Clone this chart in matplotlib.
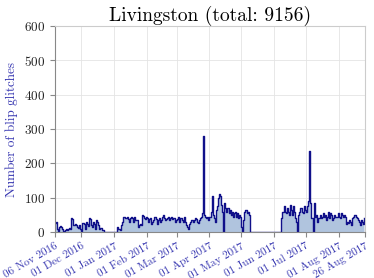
import numpy as np
import pandas as pd
import matplotlib
matplotlib.use('Agg')
import matplotlib.pyplot as plt
import matplotlib.dates as mdates

plt.rcParams['font.family'] = 'serif'
plt.rcParams['font.serif'] = ['cmr10', 'DejaVu Serif']
plt.rcParams['mathtext.fontset'] = 'cm'
plt.rcParams['axes.unicode_minus'] = False
plt.rcParams['axes.formatter.use_mathtext'] = True

title = 'Livingston (total: 9156)'
ylabel = 'Number of blip glitches'
start_date = '2016-11-06'

# daily counts
nov_dec = [28, 30, 8, 3, 15, 18, 15, 8, 4, 6,
           8, 5, 10, 12, 10, 40, 38, 20, 22, 24,
           20, 15, 12, 20, 8, 4, 28, 25, 10, 30,
           25, 18, 40, 38, 20, 15, 30, 25, 8, 35,
           30, 20, 10, 12, 6, 5, 0]
gap_1 = [0] * 12
jan_may = [15, 10, 5, 20, 30, 45, 44, 40, 42, 45,
           38, 30, 40, 45, 42, 30, 45, 35, 35, 15,
           20, 25, 20, 50, 48, 40, 38, 45, 40, 30,
           38, 40, 25, 30, 35, 45, 38, 25, 35, 40,
           30, 35, 45, 50, 40, 35, 38, 42, 45, 35,
           40, 45, 38, 40, 30, 35, 38, 45, 30, 40,
           42, 35, 30, 45,
           30, 20, 15, 8, 25, 30, 35, 30, 35, 40,
           38, 30, 28, 35, 40, 45, 55, 280, 50, 45,
           40, 45, 35, 45, 60, 105, 50, 40, 30, 65,
           75, 100, 110, 105, 80, 60, 0, 85, 70, 60,
           70, 55, 65, 50, 60, 45, 55, 60, 45, 55,
           40, 50, 45, 15, 0, 35, 60, 65, 55, 60,
           50, 0]
gap_2 = [0] * 29
jun_aug = [40, 60, 75, 60, 55, 70, 60, 50, 80, 65,
           50, 75, 60, 40, 30, 0, 50, 60, 70, 60,
           55, 75, 65, 60, 75, 90, 236, 85, 40, 40,
           0, 85, 45, 50, 30, 40, 50, 40, 45, 55,
           45, 50, 35, 45, 60, 40, 55, 50, 35, 40,
           50, 45, 45, 55, 45, 40, 55, 50, 45, 50,
           45, 25, 30, 28, 35, 30, 20, 40, 45, 50,
           45, 40, 35, 30, 20, 35, 30, 25, 40]

tick_dates = ['2016-11-06', '2016-12-01', '2017-01-01', '2017-02-01',
              '2017-03-01', '2017-04-01', '2017-05-01', '2017-06-01',
              '2017-07-01', '2017-08-01', '2017-08-26']

counts = np.array(nov_dec + gap_1 + jan_may + gap_2 + jun_aug)
days = pd.date_range(start_date, periods=len(counts), freq='D')

fig = plt.figure(figsize=(3.74, 2.78), dpi=100)
ax = fig.add_axes([0.147, 0.165, 0.829, 0.741])

line_col = '#10108a'
label_col = '#3535b0'
ax.fill_between(days, counts, step='post', color='#b0c4de', lw=0)
ax.step(days, counts, where='post', color=line_col, lw=1.0)

ax.set_xlim(pd.Timestamp(tick_dates[0]), pd.Timestamp(tick_dates[-1]))
ax.set_ylim(0, 600)
ax.set_yticks(np.arange(0, 601, 100))
ax.set_xticks(pd.to_datetime(tick_dates))
ax.xaxis.set_major_formatter(mdates.DateFormatter('%d %b %Y'))
for lab in ax.get_xticklabels():
    lab.set_rotation(30)
    lab.set_ha('right')
    lab.set_rotation_mode('anchor')
    lab.set_color(label_col)
    lab.set_fontsize(8)
ax.tick_params(axis='y', labelsize=9.5, colors='#222222', color='#888888')
ax.tick_params(axis='x', color='#888888', labelcolor=label_col, pad=3)

ax.grid(True, color='#e4e4e4', lw=0.6)
ax.set_axisbelow(True)
for side in ['top', 'right']:
    ax.spines[side].set_color('#cccccc')
for side in ['left', 'bottom']:
    ax.spines[side].set_color('#888888')

ax.set_title(title, fontsize=14, pad=2)
ax.set_ylabel(ylabel, color=label_col, fontsize=9.5)

fig.savefig('out.png', dpi=100)
